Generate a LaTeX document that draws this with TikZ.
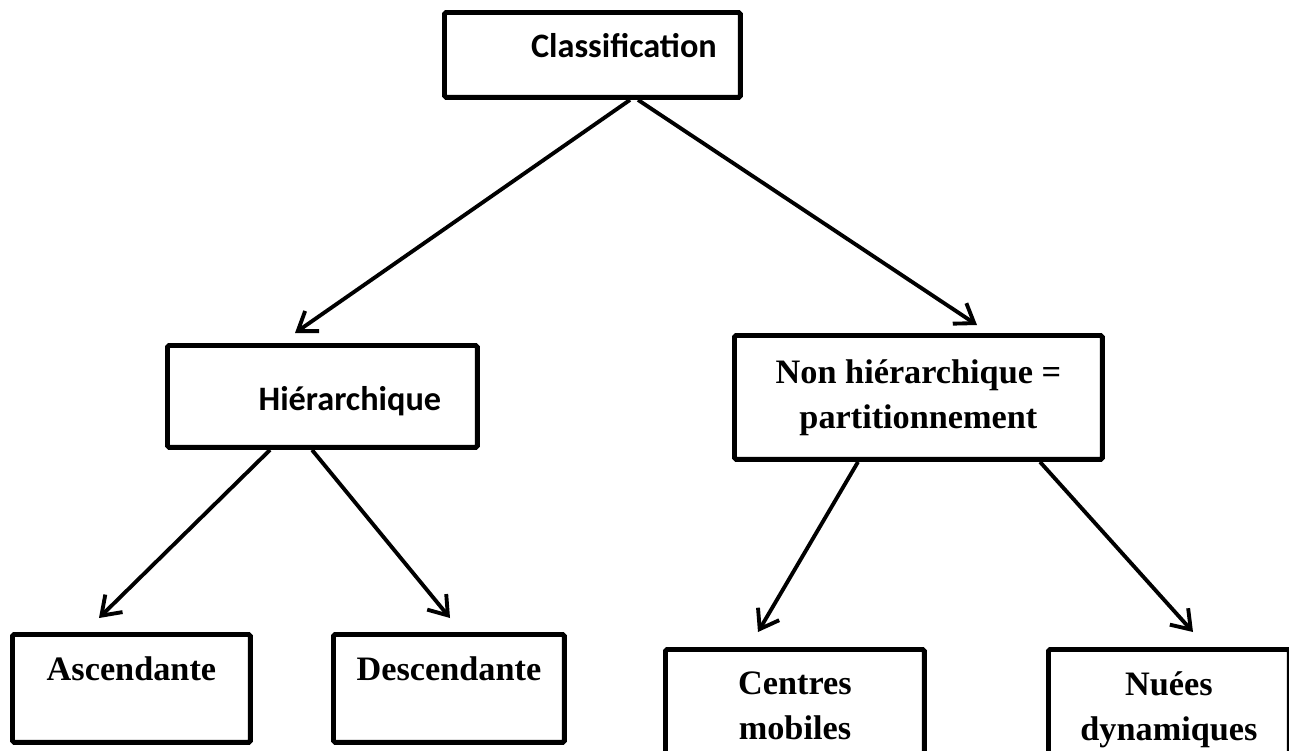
\documentclass[tikz,border=0pt]{standalone}
\usepackage{fontspec}
\setmainfont{Liberation Serif}
\newfontfamily\calibrifont{Carlito}
\usetikzlibrary{positioning,arrows.meta,calc}

\begin{document}
\begin{tikzpicture}[x=0.02cm, y=-0.02cm, >={Straight Barb[length=10pt,width=14pt]},
      boite/.style={draw, line width=2.8pt, rounded corners=1pt, inner sep=0pt, anchor=north west},
      sans/.style={boite, font=\calibrifont\bfseries\fontsize{19.5}{24}\selectfont},
      serif/.style={boite, align=center, font=\bfseries\fontsize{19.5}{25.6}\selectfont},
      fl/.style={->, line width=2.2pt}]
    \useasboundingbox (0,0) rectangle (1289,751);
    \node[sans, minimum width=5.92cm, text height=0.9cm, text depth=0.8cm] (cls) at (442,10) {\hspace*{1.26cm}Classification};
    \node[sans, minimum width=6.2cm, text height=1.3cm, text depth=0.74cm] (hier) at (165,343) {\hspace*{1.1cm}Hiérarchique};
    \node[serif, minimum width=7.36cm, minimum height=2.48cm] (nh) at (732,333) {Non hiérarchique =\\partitionnement};
    \node[serif, minimum width=4.76cm, text height=0.92cm, text depth=1.24cm] (asc) at (10,632) {Ascendante};
    \node[serif, minimum width=4.62cm, text height=0.92cm, text depth=1.24cm] (desc) at (331,632) {Descendante};
    \node[serif, minimum width=5.18cm, minimum height=2.24cm] (cm) at (663,647) {Centres\\mobiles};
    \node[serif, minimum width=4.82cm, minimum height=2.4cm] (nd) at (1046,647) {Nuées\\dynamiques};
    \draw[fl] ($(cls.south west)+(188,0)$) -- ($(hier.north west)+(130,-10)$);
    \draw[fl] ($(cls.south west)+(196,0)$) -- ($(nh.north west)+(245,-8)$);
    \draw[fl] ($(hier.south west)+(105,0)$) -- ($(asc.north west)+(89,-14)$);
    \draw[fl] ($(hier.south west)+(147,0)$) -- ($(desc.north west)+(119,-14)$);
    \draw[fl] ($(nh.south west)+(126,0)$) -- ($(cm.north west)+(95,-15)$);
    \draw[fl] ($(nh.south west)+(308,0)$) -- ($(nd.north west)+(147,-15)$);
\end{tikzpicture}
\end{document}
